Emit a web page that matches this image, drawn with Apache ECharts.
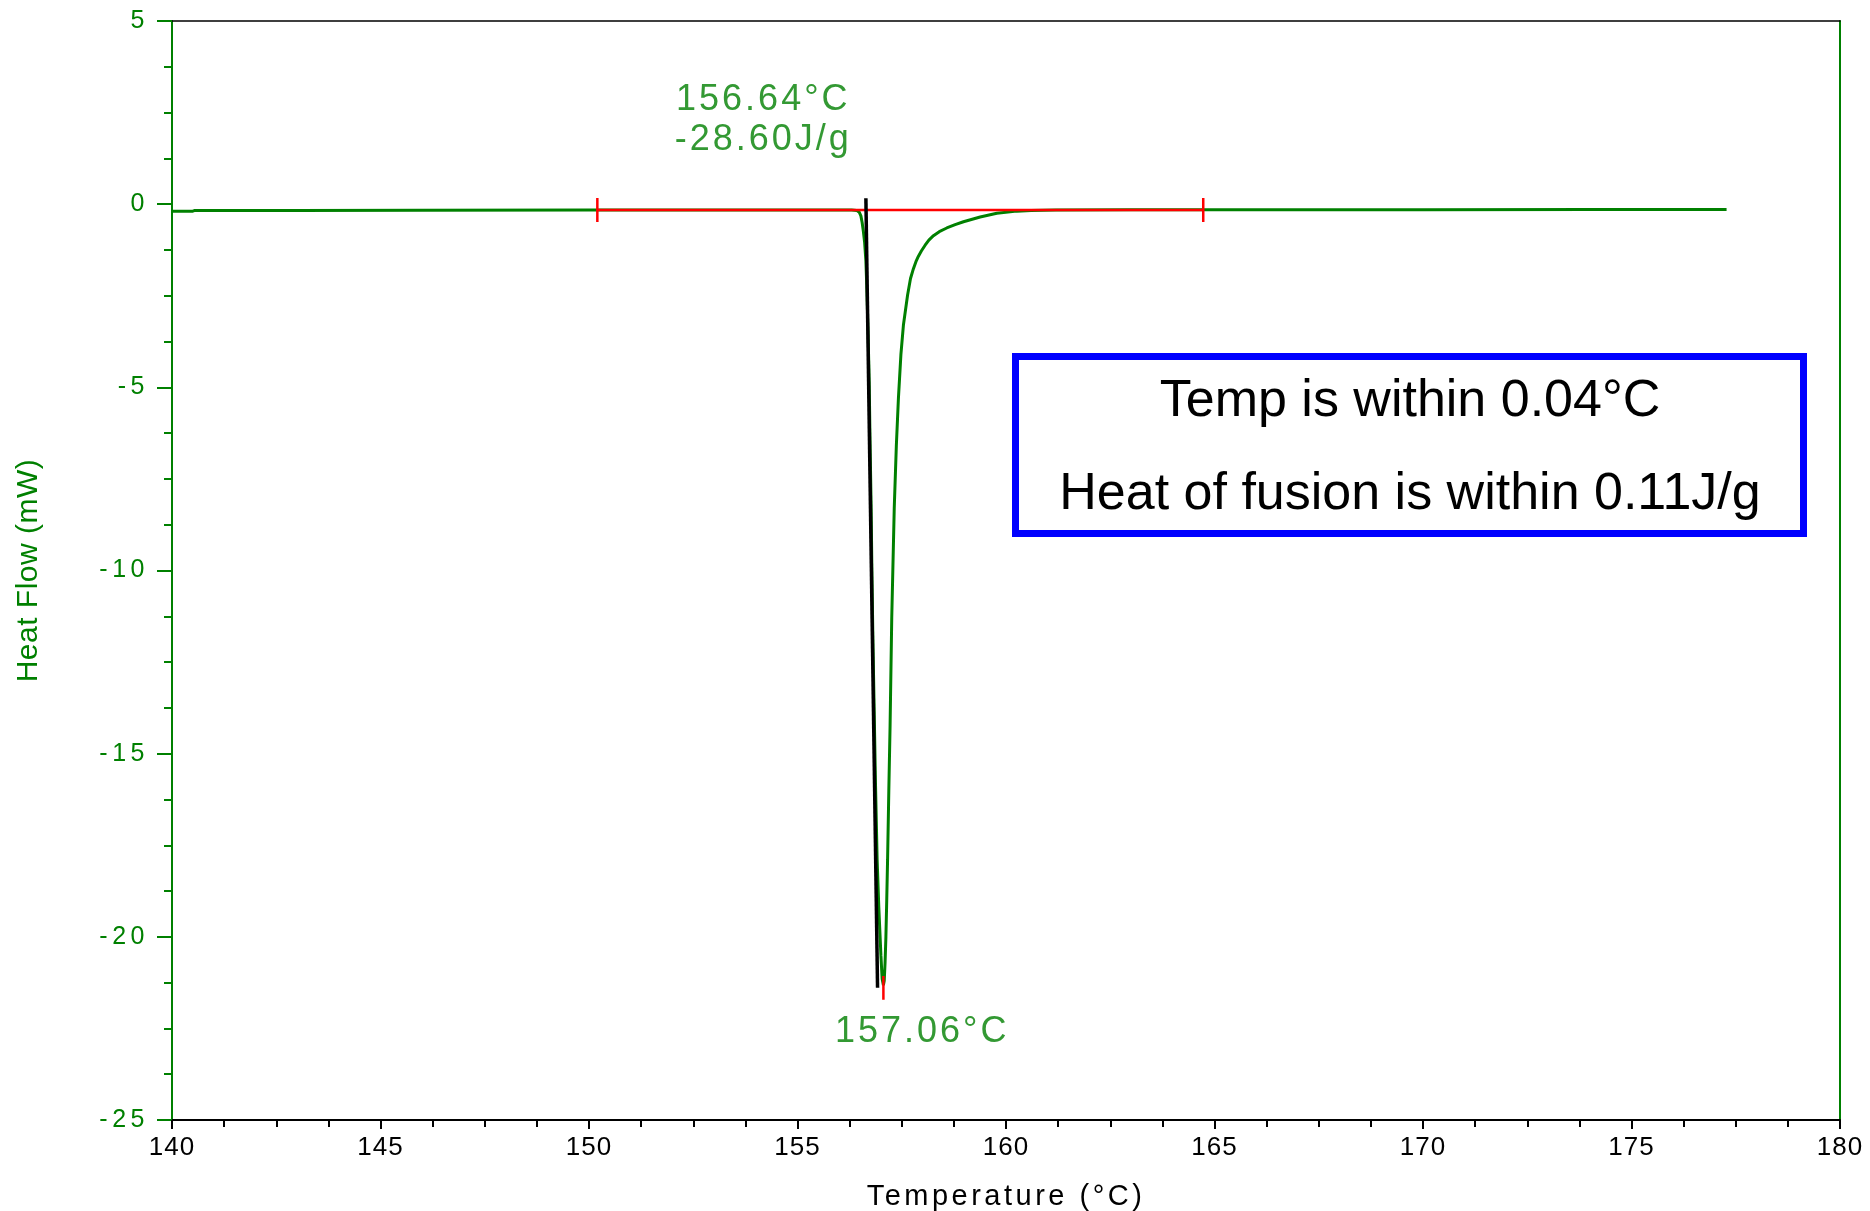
<!DOCTYPE html>
<html>
<head>
<meta charset="utf-8">
<title>DSC melting peak</title>
<script src="https://cdn.jsdelivr.net/npm/echarts@6/dist/echarts.min.js"></script>
<style>
  html, body { margin: 0; padding: 0; background: #ffffff; }
  #chart { width: 1870px; height: 1211px; }
</style>
</head>
<body>
<div id="chart"></div>
<script>
// ---- DSC scan: heat flow (mW) against temperature (°C) ----
const temperature = [
  140.0, 140.5, 140.55, 143.0, 146.0, 150.0, 153.0, 155.0, 156.0, 156.3,
  156.42, 156.48, 156.52, 156.55, 156.58, 156.61, 156.64, 156.66, 156.69, 156.72,
  156.74, 156.765, 156.785, 156.81, 156.84, 156.87, 156.91, 156.95, 157.0, 157.03,
  157.06, 157.08, 157.1, 157.12, 157.14, 157.16, 157.19, 157.22, 157.26, 157.32,
  157.37, 157.42, 157.48, 157.54, 157.64, 157.71, 157.78, 157.84, 157.9, 157.97,
  158.06, 158.15, 158.26, 158.4, 158.58, 158.78, 158.98, 159.38, 159.78, 160.26,
  160.6, 161.2, 163.0, 166.0, 170.0, 174.0, 177.28
];
const heatFlow = [
  -0.19, -0.19, -0.17, -0.17, -0.165, -0.16, -0.16, -0.16, -0.16, -0.16,
  -0.17, -0.22, -0.32, -0.5, -0.75, -1.05, -1.55, -2.2, -3.4, -4.9,
  -6.5, -8.2, -10.1, -12.0, -13.9, -15.8, -17.9, -19.2, -20.5, -21.15,
  -21.32, -21.2, -20.7, -20.0, -19.0, -17.9, -16.0, -14.25, -11.3, -8.3,
  -6.6, -5.3, -4.1, -3.3, -2.48, -2.03, -1.76, -1.57, -1.42, -1.28,
  -1.12, -0.98, -0.86, -0.75, -0.65, -0.56, -0.48, -0.35, -0.25, -0.19,
  -0.17, -0.16, -0.155, -0.15, -0.15, -0.145, -0.145
];

// Peak integration results
const integrationLimits = [150.2, 164.73];
const integrationBaseline = -0.16;
const onsetTemp = 156.64;
const tangentTemp = [156.64, 156.92];
const tangentFlow = [0.16, -21.39];
const peakTemp = 157.06;
const peakFlow = -21.32;
const enthalpy = -28.60;

// Axis scales
const xRange = [140, 180];
const xStep = 5;
const yRange = [-25, 5];
const yStep = 5;

// Comparison notes shown in the framed box
const noteLines = ['Temp is within 0.04°C', 'Heat of fusion is within 0.11J/g'];

// ---- styling ----
const GREEN = '#008000';
const RED = '#ff0000';
const FONT = '"Liberation Sans", Arial, Helvetica, sans-serif';

// The instrument software prints its numbers with widened letter spacing;
// canvas text gets the same tracking, keyed by font size.
const TRACKING = { 25: 4.5, 26: 1, 29: 3.5, 30: 0.5, 36: 3 };
(function () {
  const proto = CanvasRenderingContext2D.prototype;
  if (!('letterSpacing' in proto)) return;
  const fill = proto.fillText;
  proto.fillText = function (text, x, y, maxWidth) {
    const m = /(\d+(?:\.\d+)?)px/.exec(this.font || '');
    const sp = m ? TRACKING[Math.round(parseFloat(m[1]))] : 0;
    this.letterSpacing = sp ? sp + 'px' : '0px';
    return maxWidth === undefined
      ? fill.call(this, text, x, y)
      : fill.call(this, text, x, y, maxWidth);
  };
})();

const curve = temperature.map((t, i) => [t, heatFlow[i]]);
const pairs = (xs, ys) => xs.map((x, i) => [x, ys[i]]);

const chart = echarts.init(document.getElementById('chart'), null, { renderer: 'canvas' });

const tickHalf = 0.33;
const limitTick = (t) => ({
  type: 'line', xAxisIndex: 0, yAxisIndex: 0, silent: true, showSymbol: false,
  lineStyle: { color: RED, width: 2.5 },
  data: [[t, integrationBaseline + tickHalf], [t, integrationBaseline - tickHalf]]
});

chart.setOption({
  animation: false,
  backgroundColor: '#ffffff',
  grid: {
    left: 172, right: 30, top: 21, bottom: 91,
    containLabel: false, outerBoundsMode: 'none'
  },
  xAxis: [
    {
      type: 'value', position: 'bottom',
      min: xRange[0], max: xRange[1], interval: xStep,
      name: 'Temperature (°C)', nameLocation: 'middle', nameGap: 62,
      nameTextStyle: { color: '#000', fontSize: 29, fontFamily: FONT },
      axisLine: { onZero: false, lineStyle: { color: '#000', width: 2 } },
      axisTick: { show: true, inside: false, length: 9, lineStyle: { color: '#000', width: 2 } },
      minorTick: { show: true, splitNumber: 4, length: 7, lineStyle: { color: '#000', width: 2 } },
      axisLabel: { color: '#000', fontSize: 26, fontFamily: FONT, margin: 15 },
      splitLine: { show: false }
    },
    {
      type: 'value', position: 'top',
      min: xRange[0], max: xRange[1], interval: xStep,
      axisLine: { onZero: false, lineStyle: { color: '#000', width: 1.5 } },
      axisTick: { show: false }, axisLabel: { show: false }, splitLine: { show: false }
    }
  ],
  yAxis: [
    {
      type: 'value', position: 'left',
      min: yRange[0], max: yRange[1], interval: yStep,
      name: 'Heat Flow (mW)', nameLocation: 'middle', nameGap: 128,
      nameTextStyle: { color: GREEN, fontSize: 30, fontFamily: FONT },
      axisLine: { onZero: false, lineStyle: { color: GREEN, width: 2 } },
      axisTick: { show: true, inside: false, length: 15, lineStyle: { color: GREEN, width: 2 } },
      minorTick: { show: true, splitNumber: 4, length: 8, lineStyle: { color: GREEN, width: 2 } },
      axisLabel: { color: GREEN, fontSize: 25, fontFamily: FONT, margin: 23 },
      splitLine: { show: false }
    },
    {
      type: 'value', position: 'right',
      min: yRange[0], max: yRange[1], interval: yStep,
      axisLine: { onZero: false, lineStyle: { color: GREEN, width: 2 } },
      axisTick: { show: false }, axisLabel: { show: false }, splitLine: { show: false }
    }
  ],
  series: [
    {
      name: 'Heat Flow', type: 'line', xAxisIndex: 0, yAxisIndex: 0,
      showSymbol: false, silent: true,
      lineStyle: { color: GREEN, width: 3 },
      data: curve
    },
    {
      name: 'Baseline', type: 'line', xAxisIndex: 0, yAxisIndex: 0,
      showSymbol: false, silent: true,
      lineStyle: { color: RED, width: 2.5 },
      data: [[integrationLimits[0], integrationBaseline], [integrationLimits[1], integrationBaseline]]
    },
    limitTick(integrationLimits[0]),
    limitTick(integrationLimits[1]),
    {
      name: 'Onset tangent', type: 'line', xAxisIndex: 0, yAxisIndex: 0,
      showSymbol: false, silent: true,
      lineStyle: { color: '#000', width: 3.5 },
      data: pairs(tangentTemp, tangentFlow)
    },
    {
      name: 'Peak', type: 'line', xAxisIndex: 0, yAxisIndex: 0,
      showSymbol: false, silent: true,
      lineStyle: { color: RED, width: 2.5 },
      data: [[peakTemp, peakFlow + 0.25], [peakTemp, peakFlow - 0.4]]
    },
    {
      name: 'Annotations', type: 'scatter', xAxisIndex: 0, yAxisIndex: 0,
      silent: true, symbolSize: 2,
      itemStyle: { color: 'rgba(255,255,255,0)' },
      labelLayout: { hideOverlap: false },
      label: {
        show: true, position: 'inside', color: GREEN,
        fontSize: 36, fontFamily: FONT, lineHeight: 40,
        formatter: (p) => p.data.text
      },
      data: [
        { value: [154.18, 2.3], text: onsetTemp.toFixed(2) + '°C\n' + enthalpy.toFixed(2) + 'J/g' },
        { value: [157.99, -22.6], text: peakTemp.toFixed(2) + '°C' }
      ]
    }
  ],
  graphic: [
    {
      type: 'group', left: 1012, top: 353, silent: true,
      children: [
        {
          type: 'rect',
          shape: { x: 3.5, y: 3.5, width: 788, height: 177 },
          style: { fill: '#ffffff', stroke: '#0000ff', lineWidth: 7 }
        },
        {
          type: 'text', x: 398, y: 49,
          style: {
            text: noteLines[0], fill: '#000', font: '52px ' + FONT,
            textAlign: 'center', textVerticalAlign: 'middle'
          }
        },
        {
          type: 'text', x: 398, y: 142,
          style: {
            text: noteLines[1], fill: '#000', font: '52px ' + FONT,
            textAlign: 'center', textVerticalAlign: 'middle'
          }
        }
      ]
    }
  ]
});
</script>
</body>
</html>
